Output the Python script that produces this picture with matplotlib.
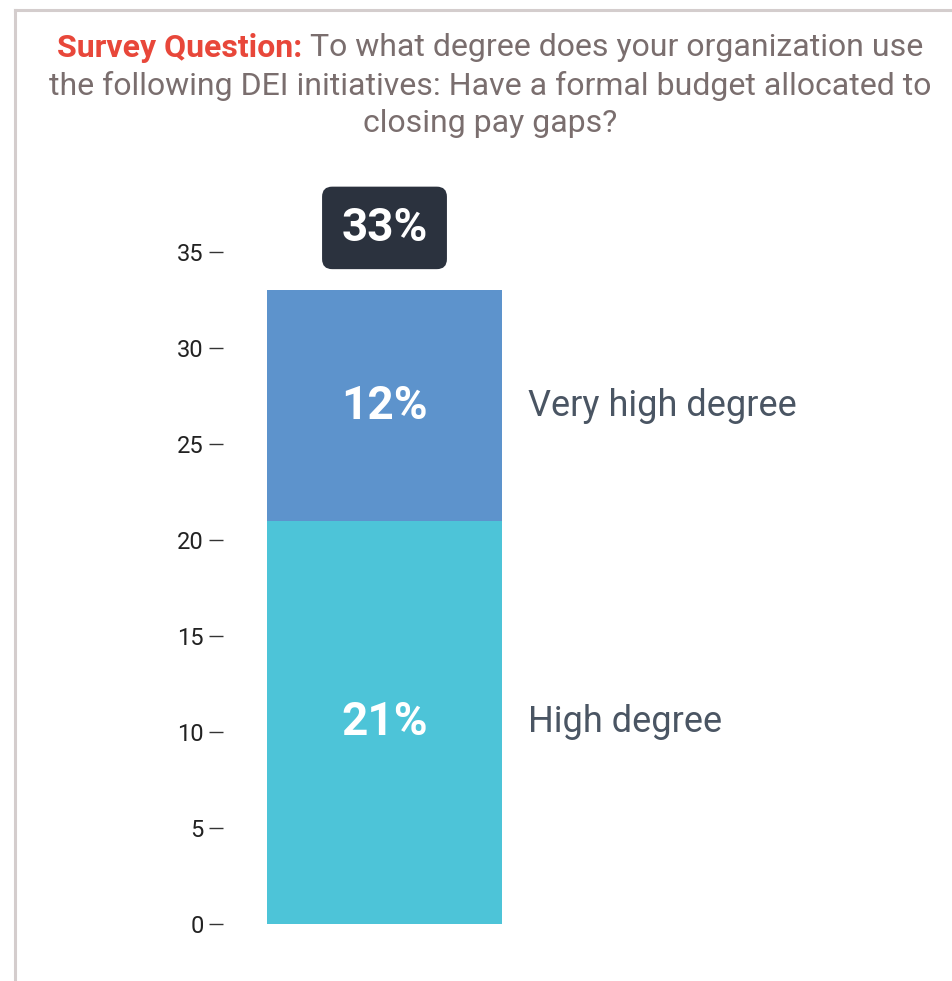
import matplotlib
matplotlib.use("Agg")
import matplotlib.pyplot as plt
from matplotlib.lines import Line2D

plt.rcParams['font.family'] = ['Roboto', 'DejaVu Sans']

# data
categories = ['High degree', 'Very high degree']
values = [21, 12]
colors = ['#4dc4d8', '#5d93cc']
total = sum(values)
yticks = [0, 5, 10, 15, 20, 25, 30, 35]

W, H = 952, 981
fig = plt.figure(figsize=(W / 100, H / 100), dpi=100)

# axes placed so y=0 sits at pixel 924 and 1 unit = 19.2 px
px_unit = 19.2
ymax = 38
ax_left, ax_right = 223, 900
ax_bottom = H - 924
ax = fig.add_axes([ax_left / W, ax_bottom / H, (ax_right - ax_left) / W, ymax * px_unit / H])

bar_px = 235
bar_center = 384.5
ax.set_xlim(-(bar_center - ax_left) / bar_px, (ax_right - bar_center) / bar_px)
ax.set_ylim(0, ymax)

bottom = 0
for cat, v, c in zip(categories, values, colors):
    ax.bar(0, v, width=1, bottom=bottom, color=c, edgecolor='none')
    mid = bottom + v / 2
    ax.text(0, mid, f'{v}%', ha='center', va='center', color='white',
            fontsize=33, fontweight='bold')
    ax.text(0.5 + 26 / bar_px, mid, cat, ha='left', va='center', color='#4a5563', fontsize=26)
    bottom += v

# total label box
ax.annotate(f'{total}%', xy=(0, total), xytext=(0, 45), textcoords='offset points',
            ha='center', va='center', color='white', fontsize=33, fontweight='bold',
            annotation_clip=False,
            bbox=dict(boxstyle='round,pad=0.42,rounding_size=0.22', fc='#2b323e', ec='none'))

ax.set_yticks(yticks)
ax.set_yticklabels([str(t) for t in yticks])
ax.tick_params(axis='y', length=10, width=1, color='#333333', pad=4, labelsize=17, labelcolor='#222222')
ax.set_xticks([])
for s in ax.spines.values():
    s.set_visible(False)

# frame lines
border = '#d4cdcd'
fig.add_artist(Line2D([15 / W, 1], [1 - 9.5 / H, 1 - 9.5 / H], color=border, lw=2.2, transform=fig.transFigure))
fig.add_artist(Line2D([15 / W, 15 / W], [0, 1 - 9.5 / H], color=border, lw=2.2, transform=fig.transFigure))

# title
title_red = 'Survey Question:'
title_rest = ' To what degree does your organization use'
title_lines = ['the following DEI initiatives: Have a formal budget allocated to',
               'closing pay gaps?']
red = '#e8473a'
gray = '#7a6e6e'
tsize = 23
cx = 490
renderer = fig.canvas.get_renderer()
t1 = fig.text(0, 1 - 48 / H, title_red, color=red, fontsize=tsize, fontweight='bold', va='center')
t2 = fig.text(0, 1 - 48 / H, title_rest, color=gray, fontsize=tsize, va='center')
w1 = t1.get_window_extent(renderer).width
w2 = t2.get_window_extent(renderer).width
x0 = cx - (w1 + w2) / 2
t1.set_x(x0 / W)
t2.set_x((x0 + w1) / W)
for i, line in enumerate(title_lines):
    fig.text(cx / W, 1 - (86 + 38 * i) / H, line, color=gray, fontsize=tsize, ha='center', va='center')

fig.savefig('out.png', dpi=100)
